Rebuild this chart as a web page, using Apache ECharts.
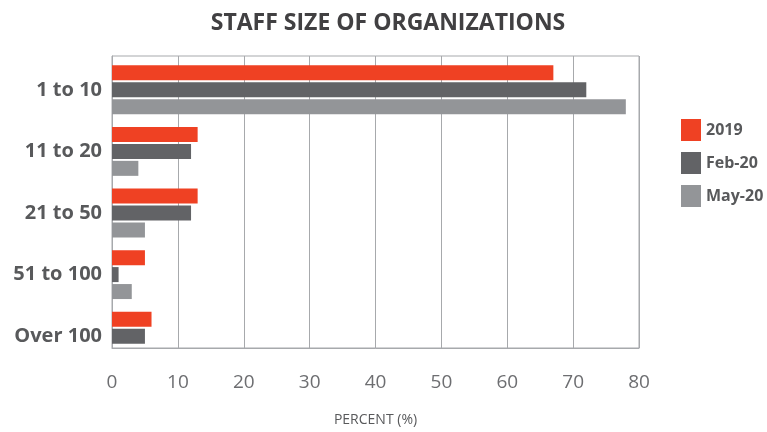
<!DOCTYPE html>
<html>
<head>
<meta charset="utf-8">
<script src="https://cdn.jsdelivr.net/npm/echarts@6/dist/echarts.min.js"></script>
<style>
  html, body { margin: 0; padding: 0; background: #fff; }
  #chart { width: 767px; height: 432px; }
</style>
</head>
<body>
<div id="chart"></div>
<script>
// 数据
var categories = ['1 to 10', '11 to 20', '21 to 50', '51 to 100', 'Over 100'];
var seriesNames = ['2019', 'Feb-20', 'May-20'];
var data2019 = [67, 13, 13, 5, 6];
var dataFeb20 = [72, 12, 12, 1, 5];
var dataMay20 = [78, 4, 5, 3, 0];
var xTicks = [0, 10, 20, 30, 40, 50, 60, 70, 80];

var colors = ['#ef4123', '#626366', '#939598'];
var textColor = '#58595b';
var lineColor = '#a7a9ac';
var font = '"Open Sans", "Noto Sans", sans-serif';

var myChart = echarts.init(document.getElementById('chart'));

function barSeries(name, values, color) {
    return {
        name: name,
        type: 'bar',
        xAxisIndex: 1,
        yAxisIndex: 1,
        barWidth: 15,
        barGap: '13%',
        itemStyle: { color: color },
        data: values
    };
}

var options = {
    animation: false,
    textStyle: { fontFamily: font },
    title: {
        text: 'STAFF SIZE OF ORGANIZATIONS',
        left: 383,
        textAlign: 'center',
        top: 7,
        textStyle: { color: '#414042', fontSize: 23, fontWeight: 'bold', fontFamily: font }
    },
    legend: {
        orient: 'vertical',
        left: 676,
        top: 114,
        itemWidth: 20,
        itemHeight: 22,
        itemGap: 11,
        icon: 'rect',
        data: seriesNames,
        textStyle: { color: textColor, fontSize: 16, fontWeight: 'bold', fontFamily: font }
    },
    // 网格0: 边框和刻度; 网格1: 柱子和分类
    grid: [
        {
            left: 112,
            right: 128,
            top: 56,
            bottom: 74,
            show: true,
            borderColor: lineColor,
            borderWidth: 1
        },
        {
            left: 112,
            right: 128,
            top: 59,
            bottom: 65
        }
    ],
    xAxis: [
        {
            type: 'value',
            gridIndex: 0,
            min: 0,
            max: 80,
            interval: 10,
            name: 'PERCENT (%)',
            nameLocation: 'middle',
            nameGap: 65,
            nameTextStyle: { color: textColor, fontSize: 14, fontFamily: font },
            axisLine: { show: true, lineStyle: { color: lineColor } },
            axisTick: { show: false },
            axisLabel: {
                color: '#6d6e71',
                fontSize: 19,
                margin: 25,
                formatter: function (v) { return xTicks.indexOf(v) >= 0 ? String(v) : ''; }
            },
            splitLine: { show: true, lineStyle: { color: lineColor, width: 1 } }
        },
        {
            type: 'value',
            gridIndex: 1,
            min: 0,
            max: 80,
            show: false
        }
    ],
    yAxis: [
        {
            type: 'category',
            gridIndex: 0,
            data: categories,
            axisLine: { show: true, lineStyle: { color: lineColor } },
            axisTick: { show: false },
            axisLabel: { show: false }
        },
        {
            type: 'category',
            gridIndex: 1,
            inverse: true,
            data: categories,
            axisLine: { show: false },
            axisTick: { show: false },
            splitLine: { show: false },
            axisLabel: { color: textColor, fontSize: 20, fontWeight: 'bold', margin: 10 }
        }
    ],
    series: [
        barSeries(seriesNames[0], data2019, colors[0]),
        barSeries(seriesNames[1], dataFeb20, colors[1]),
        barSeries(seriesNames[2], dataMay20, colors[2])
    ]
};

myChart.setOption(options);
</script>
</body>
</html>
